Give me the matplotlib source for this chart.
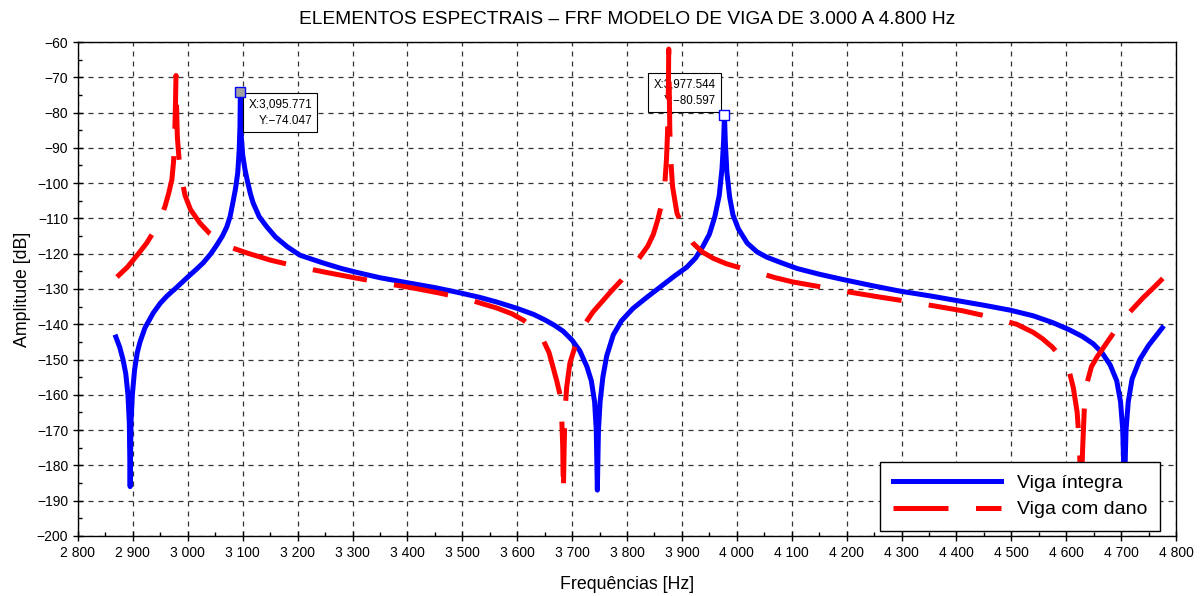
import numpy as np
import matplotlib
matplotlib.use('Agg')
import matplotlib.pyplot as plt
from matplotlib.ticker import MultipleLocator, FuncFormatter

plt.rcParams['font.family'] = ['Liberation Sans', 'DejaVu Sans']

# intact beam
f_int = [2869, 2876, 2882, 2887, 2891, 2893.5, 2895, 2896.5, 2899, 2903, 2908, 2913, 2922,
         2937, 2950, 2962, 2980, 3000, 3015, 3028, 3042, 3053, 3063, 3071, 3077, 3082,
         3087, 3091, 3093.5, 3095, 3095.771, 3097, 3100, 3104, 3108, 3114, 3119, 3130,
         3144, 3160, 3181, 3204, 3246, 3280, 3308, 3350, 3399, 3450, 3490, 3530, 3563,
         3600, 3630, 3651, 3668, 3684, 3700, 3714, 3727, 3735, 3741, 3744, 3746, 3748,
         3751, 3756, 3763, 3775, 3790, 3811, 3835, 3860, 3885, 3909, 3925, 3938, 3950,
         3960, 3968, 3973, 3976, 3977.544, 3979, 3982, 3987, 3993, 4003, 4019, 4037,
         4055, 4080, 4110, 4150, 4193, 4245, 4297, 4350, 4394, 4450, 4498, 4540, 4575,
         4605, 4630, 4649, 4665, 4680, 4692, 4699, 4703, 4706, 4709, 4713, 4720, 4734,
         4750, 4765, 4775]
a_int = [-143.6, -146.5, -150, -154, -160, -168, -186, -168, -160, -153, -148, -145, -141,
         -136.8, -134, -132, -129.5, -126.6, -124.5, -122.6, -120, -117.5, -115, -112.4, -109.5, -105.6,
         -101.5, -97, -91, -84, -74.047, -86, -92, -96, -99, -103, -105.6, -109.5,
         -112.4, -115.3, -118, -120.4, -122.6, -124.2, -125.3, -126.8, -128.2, -129.6, -130.9, -132.3, -133.7,
         -135.5, -137.2, -138.8, -140.3, -142, -144.5, -147.5, -152, -156, -162, -170, -187, -170,
         -162, -155, -149, -143, -139, -135.5, -132.5, -129.5, -126.5, -123.8, -121.2, -118, -114.5,
         -109.5, -103.5, -96, -88, -80.597, -88, -97, -104, -109, -113, -117, -119.5,
         -121, -122.5, -124.2, -125.8, -127.3, -129, -130.6, -131.9, -133.1, -134.6, -136, -137.6, -139.5,
         -141.5, -143.5, -145.5, -148, -151.5, -156, -162, -170, -187, -170, -162, -155.5, -150,
         -146, -143, -141]

# damaged beam
f_dam = [2871, 2890, 2910, 2925, 2937, 2950, 2958, 2965, 2971, 2974, 2976, 2977.5, 2978.5,
         2979.5, 2981, 2984, 2988, 2995, 3005, 3022, 3040, 3059, 3080, 3108, 3150, 3204,
         3259, 3310, 3356, 3410, 3460, 3514, 3563, 3590, 3611, 3630, 3647, 3658, 3665,
         3672, 3678, 3681, 3683, 3684, 3685.5, 3687, 3690, 3696, 3705, 3714, 3725, 3738,
         3755, 3773, 3790, 3805, 3822, 3838, 3848, 3856, 3863, 3869, 3872, 3874, 3875.5,
         3876, 3876.8, 3878, 3880, 3883, 3891, 3905, 3920, 3937, 3957, 3980, 4006, 4042,
         4070, 4102, 4164, 4210, 4261, 4310, 4360, 4412, 4461, 4510, 4540, 4556, 4575,
         4592, 4605, 4613, 4620, 4624, 4627, 4630, 4633, 4638, 4646, 4656, 4675, 4695,
         4716, 4740, 4760, 4776]
a_dam = [-126.6, -123.8, -120, -117, -114, -110, -106.8, -103, -99, -94, -87, -78, -69.5,
         -78, -87, -93, -98, -103.5, -107.5, -111.3, -114.3, -116.5, -118.3, -119.8, -121.8, -123.8,
         -125.5, -127, -128.3, -129.7, -131.2, -133.1, -135.4, -137, -138.8, -141, -144.4, -148, -152,
         -156, -160, -166, -175, -188, -175, -165, -158, -151, -146.5, -143, -139.5, -136.5,
         -133.5, -130.3, -127.5, -124.6, -121.3, -117.8, -114.5, -110.4, -106, -100, -93, -85, -72,
         -62, -72, -85, -94, -101, -108.5, -113.5, -117, -119.5, -121.3, -122.8, -124, -125.5,
         -126.8, -128, -129.7, -131, -132.3, -133.5, -134.8, -136.2, -137.9, -140, -142.3, -144, -146.5,
         -149.6, -153, -158, -165, -174, -190, -175, -164, -156.6, -152, -149.3, -145, -140.5,
         -136.5, -132.5, -129.5, -127]

peak1 = (3095.771, -74.047)
peak2 = (3977.544, -80.597)

fig = plt.figure(figsize=(12.04, 5.96), dpi=100)
ax = fig.add_axes([78/1204, 1-536/596, 1098/1204, 494/596])

ax.plot(f_int, a_int, color='#0000ff', lw=3.6, zorder=3, solid_joinstyle='round',
        label='Viga íntegra')
ax.plot(f_dam, a_dam, color='#ff0000', lw=3.6, dashes=(11, 5.5), zorder=4,
        dash_joinstyle='round', label='Viga com dano')

# data tips
ax.plot(*peak1, marker='s', ms=6.5, mfc='#a0a0a0', mec='#0000ff', mew=1, zorder=5)
ax.plot(*peak2, marker='s', ms=6.5, mfc='white', mec='#0000ff', mew=1, zorder=5)
box = dict(boxstyle='square,pad=0.45', fc='white', ec='black', lw=0.8)
ax.annotate('X:3,095.771\nY:\u221274.047', xy=peak1, xytext=(8, -7), textcoords='offset pixels',
            ha='left', va='top', multialignment='right', fontsize=8.5, linespacing=1.5,
            bbox=box, zorder=3.5)
ax.annotate('X:3,977.544\nY:\u221280.597', xy=peak2, xytext=(-9, 8), textcoords='offset pixels',
            ha='right', va='bottom', multialignment='right', fontsize=8.3, linespacing=1.5,
            bbox=box, zorder=3.5)

ax.set_xlim(2800, 4800)
ax.set_ylim(-200, -60)
ax.xaxis.set_major_locator(MultipleLocator(100))
ax.xaxis.set_minor_locator(MultipleLocator(50))
ax.yaxis.set_major_locator(MultipleLocator(10))
ax.yaxis.set_minor_locator(MultipleLocator(5))
ax.xaxis.set_major_formatter(FuncFormatter(lambda v, p: f'{int(v):,}'.replace(',', ' ')))
ax.tick_params(which='major', direction='inout', length=7, width=1, labelsize=10)
ax.tick_params(which='minor', direction='in', length=3, width=1)
ax.grid(True, which='major', color='#333333', lw=0.9, linestyle=(0, (4, 4)), zorder=0)
ax.set_axisbelow(True)
for s in ax.spines.values():
    s.set_linewidth(1)

ax.set_title('ELEMENTOS ESPECTRAIS \u2013 FRF MODELO DE VIGA DE 3.000 A 4.800 Hz', fontsize=13.8, pad=13)
ax.set_xlabel('Frequências [Hz]', fontsize=12.8, labelpad=12)
ax.set_ylabel('Amplitude [dB]', fontsize=12.8, labelpad=4)

leg = ax.legend(loc='lower right', bbox_to_anchor=(0.9854, 0.0101), borderaxespad=0,
                fontsize=14, handlelength=5.6, handletextpad=0.8, labelspacing=0.45,
                borderpad=0.65, fancybox=False, framealpha=1, edgecolor='black')
leg.get_frame().set_linewidth(1)
leg.set_zorder(6)

fig.savefig('out.png', dpi=100)
